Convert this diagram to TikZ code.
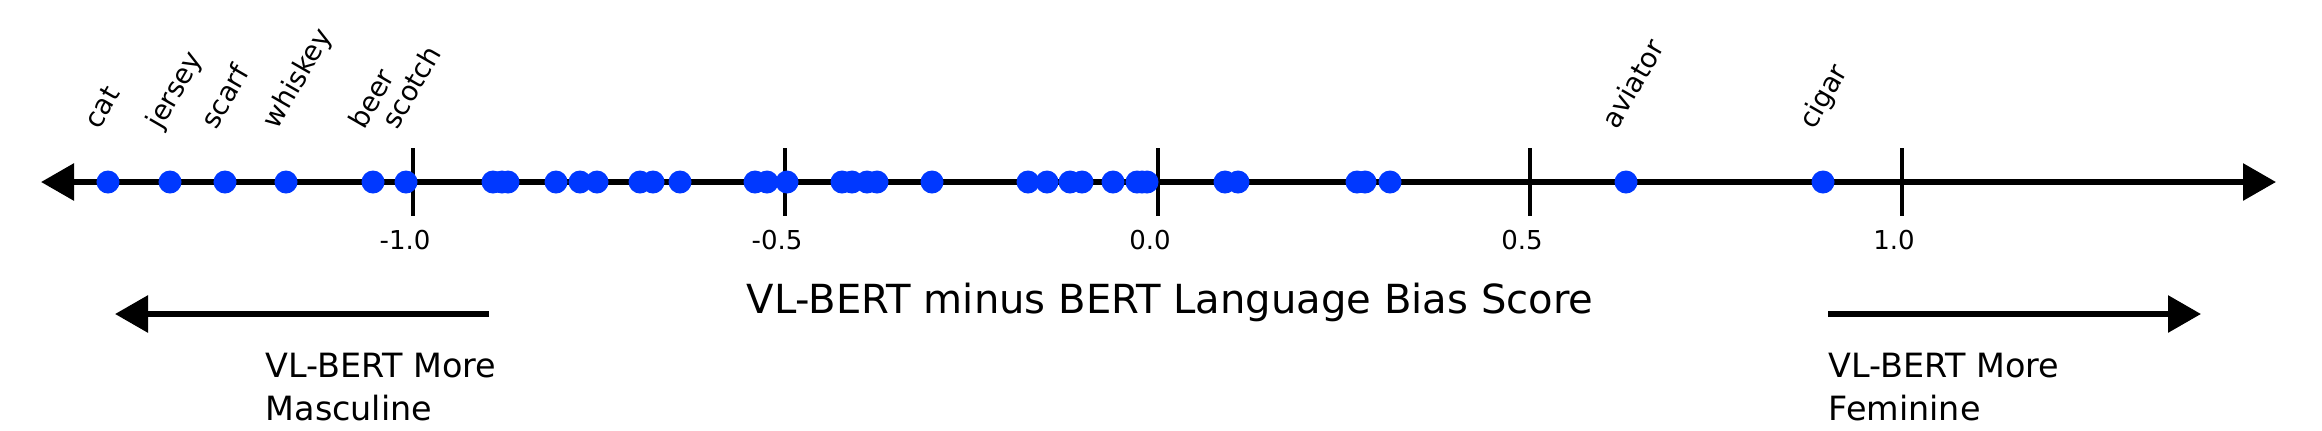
\documentclass[tikz,border=0pt]{standalone}
\usepackage{fontspec}
\setmainfont{DejaVu Sans}
\usetikzlibrary{arrows.meta}
\definecolor{dotblue}{RGB}{0,56,255}
\begin{document}
\begin{tikzpicture}[x=0.01cm,y=-0.01cm,
  axisline/.style={line width=1.7pt,-{Triangle[length=0.33cm,width=0.36cm]}},
  tickline/.style={line width=1.2pt},
  dotmark/.style={circle,fill=dotblue,inner sep=0pt,minimum size=0.23cm},
  ticklab/.style={font=\fontsize{7.4}{8}\selectfont},
  wordlab/.style={font=\fontsize{7.8}{8}\selectfont,rotate=60,anchor=base west,inner sep=0pt},
  sidelab/.style={font=\fontsize{9.5}{12.3}\selectfont,align=left,anchor=north west,inner sep=0pt}]
\useasboundingbox (0,0) rectangle (2322,430);
\coordinate (L) at (41,182);
\coordinate (R) at (2276,182);
\coordinate (M) at (1158,182);
\draw[axisline] (M) -- (L);
\draw[axisline] (M) -- (R);
\foreach \v/\x in {-1.0/413,-0.5/785,0.0/1158,0.5/1530,1.0/1902}{
  \draw[tickline] (\x,148) -- (\x,216);
  \node[ticklab] (t\x) at (\x-8,240) {\v};
}
\foreach \x in {108,170,225,286,373,406,493,502,508,556,580,597,640,653,680,755,767,787,842,852,867,877,932,1028,1047,1070,1082,1113,1137,1142,1147,1225,1238,1357,1365,1390,1626,1823}{
  \node[dotmark] (d\x) at (\x,182) {};
}
\foreach \x/\w in {108/cat,170/jersey,225/scarf,286/whiskey,373/beer,406/scotch,1626/aviator,1823/cigar}{
  \node[wordlab] (w\x) at (\x-9,131) {\w};
}
\node[font=\fontsize{11.4}{14}\selectfont] (title) at (1170,302) {VL-BERT minus BERT Language Bias Score};
\coordinate (la) at (489,314);
\coordinate (lb) at (115,314);
\coordinate (ra) at (1828,314);
\coordinate (rb) at (2201,314);
\draw[axisline] (la) -- (lb);
\draw[axisline] (ra) -- (rb);
\node[sidelab] (ml) at (265,352) {VL-BERT More\\Masculine};
\node[sidelab] (fl) at (1828,352) {VL-BERT More\\Feminine};
\end{tikzpicture}
\end{document}
